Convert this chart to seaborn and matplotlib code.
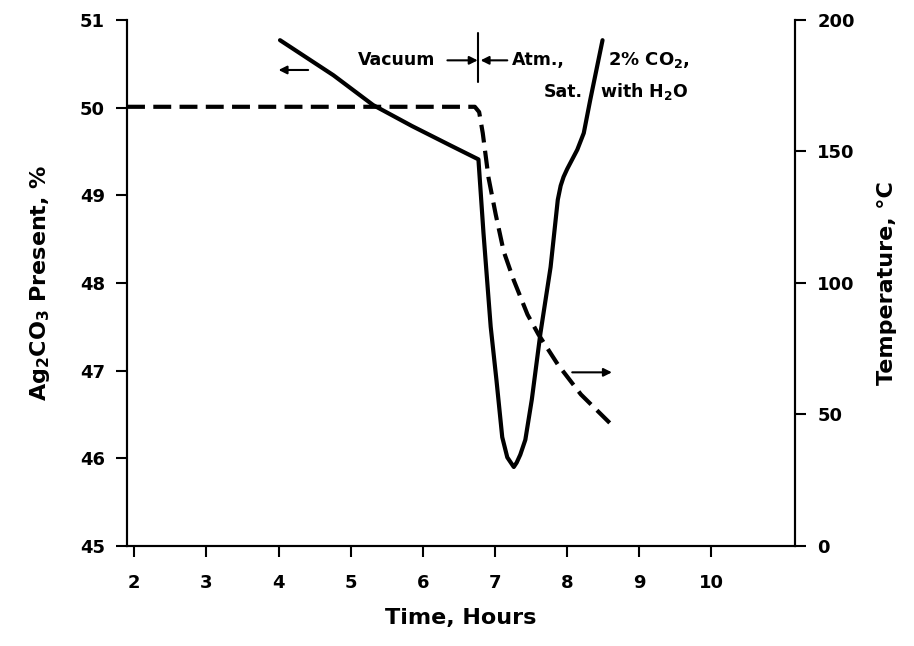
import numpy as np
import matplotlib
matplotlib.use('Agg')
import matplotlib.pyplot as plt
import seaborn as sns

# Ag2CO3 content (left axis)
time_ag = [4.02, 4.76, 5.31, 5.85, 6.38, 6.77, 6.84, 6.94, 7.02, 7.10, 7.17, 7.26,
           7.30, 7.35, 7.42, 7.51, 7.63, 7.77, 7.87, 7.91, 7.95, 8.00, 8.14, 8.23, 8.32, 8.41, 8.49]
ag_pct = [50.77, 50.37, 50.03, 49.79, 49.57, 49.41, 48.57, 47.50, 46.89, 46.24, 46.01, 45.90,
          45.95, 46.04, 46.21, 46.67, 47.43, 48.18, 48.95, 49.11, 49.21, 49.30, 49.52, 49.71, 50.09, 50.45, 50.77]

# temperature (right axis)
time_temp = [1.90, 6.72, 6.78, 6.83, 6.91, 7.01, 7.12, 7.26, 7.45, 7.60, 7.87, 8.19, 8.64]
temp_c = [167, 167, 165, 157, 140, 126, 112, 101, 88, 80.5, 69, 57.6, 45.4]

x_ticks = [2, 3, 4, 5, 6, 7, 8, 9, 10]
left_ticks = [45, 46, 47, 48, 49, 50, 51]
right_ticks = [0, 50, 100, 150, 200]

sns.set_theme(style='ticks')
plt.rcParams['font.family'] = ['DejaVu Sans']
plt.rcParams['mathtext.default'] = 'bf'
plt.rcParams['text.color'] = 'black'
plt.rcParams['axes.labelcolor'] = 'black'

fig, ax = plt.subplots(figsize=(9.14, 6.46), dpi=100)
fig.subplots_adjust(left=0.139, right=0.870, top=0.969, bottom=0.155)
ax2 = ax.twinx()

sns.lineplot(x=time_ag, y=ag_pct, ax=ax, color='black', lw=3, estimator=None)
sns.lineplot(x=time_temp, y=temp_c, ax=ax2, color='black', lw=3, estimator=None)
ax2.lines[0].set_dashes((4.3, 2))

ax.set_xlim(1.90, 11.16)
ax.set_ylim(45, 51)
ax2.set_ylim(0, 200)
ax.set_xticks(x_ticks)
ax.set_yticks(left_ticks)
ax2.set_yticks(right_ticks)

for a in (ax, ax2):
    a.spines['top'].set_visible(False)
    for s in a.spines.values():
        s.set_linewidth(1.5)
        s.set_color('black')
    a.tick_params(direction='out', length=8, width=1.5, labelsize=13, colors='black')
    for lbl in a.get_xticklabels() + a.get_yticklabels():
        lbl.set_fontweight('bold')
ax.tick_params(axis='x', pad=12)
ax.tick_params(axis='y', pad=8)
ax2.tick_params(axis='y', pad=8)

ax.set_xlabel('Time, Hours', fontsize=16, fontweight='bold', labelpad=12)
ax.set_ylabel(r'Ag$_2$CO$_3$ Present, %', fontsize=16, fontweight='bold', labelpad=20)
ax2.set_ylabel('Temperature, °C', fontsize=16, fontweight='bold', labelpad=16)

# annotations
arr = dict(arrowstyle='-|>', color='black', lw=1.5, mutation_scale=12, shrinkA=0, shrinkB=0)
ax.text(5.63, 50.54, 'Vacuum', ha='center', va='center', fontsize=12.5, fontweight='bold')
ax.annotate('', xy=(6.76, 50.54), xytext=(6.34, 50.54), arrowprops=arr)
ax.plot([6.77, 6.77], [50.29, 50.85], color='black', lw=1.5)
ax.annotate('', xy=(6.80, 50.54), xytext=(7.17, 50.54), arrowprops=arr)
ax.text(7.24, 50.54, 'Atm.,', ha='left', va='center', fontsize=12.5, fontweight='bold')
ax.text(8.57, 50.54, r'2% CO$_2$,', ha='left', va='center', fontsize=13, fontweight='bold')
ax.text(7.67, 50.18, 'Sat.', ha='left', va='center', fontsize=12.5, fontweight='bold')
ax.text(8.46, 50.18, r'with H$_2$O', ha='left', va='center', fontsize=12.5, fontweight='bold')

# axis pointers
ax.annotate('', xy=(4.0, 50.43), xytext=(4.41, 50.43), arrowprops=arr)
ax.annotate('', xy=(8.62, 46.98), xytext=(8.07, 46.98), arrowprops=arr)

fig.savefig('out.png', dpi=100)
